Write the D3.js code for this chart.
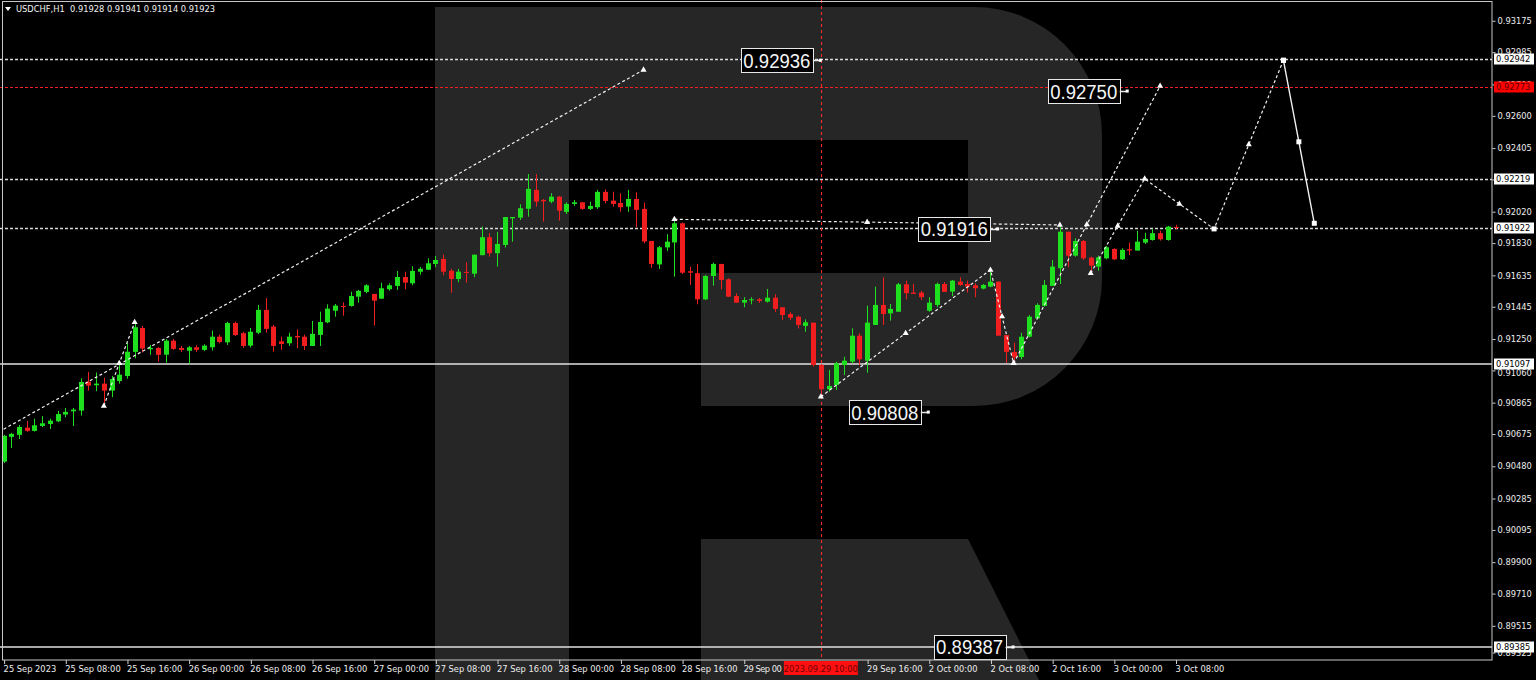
<!DOCTYPE html>
<html><head><meta charset="utf-8">
<script src="https://cdn.jsdelivr.net/npm/d3@7"></script>
<style>html,body{margin:0;padding:0;background:#000;overflow:hidden}svg{display:block}</style>
</head><body><svg id="c" width="1536" height="680"></svg>
<script>
// ---------------- DATA ----------------
const symbolName = "USDCHF,H1";
const lastOHLC = [0.91928, 0.91941, 0.91914, 0.91923];

const opens = [0.90508,0.90658,0.90670,0.90714,0.90694,0.90724,0.90736,0.90752,0.90793,0.90813,
0.90817,0.90992,0.90970,0.90980,0.90938,0.90996,0.91026,0.91172,0.91317,0.91188,
0.91196,0.91155,0.91240,0.91196,0.91179,0.91200,0.91184,0.91200,0.91264,0.91230,
0.91347,0.91285,0.91210,0.91288,0.91426,0.91325,0.91236,0.91224,0.91268,0.91264,
0.91208,0.91275,0.91351,0.91421,0.91450,0.91450,0.91506,0.91535,0.91523,0.91494,
0.91551,0.91571,0.91625,0.91587,0.91657,0.91669,0.91704,0.91734,0.91663,0.91613,
0.91656,0.91645,0.91757,0.91866,0.91769,0.91819,0.91980,0.91984,0.92038,0.92152,
0.92091,0.92081,0.92111,0.92019,0.92067,0.92077,0.92037,0.92047,0.92140,0.92087,
0.92073,0.92051,0.92097,0.92037,0.91843,0.91701,0.91804,0.91834,0.91950,0.91660,
0.91648,0.91490,0.91631,0.91704,0.91611,0.91510,0.91470,0.91484,0.91490,0.91476,
0.91500,0.91442,0.91401,0.91385,0.91329,0.91349,0.91093,0.90946,0.90972,0.91093,
0.91113,0.91270,0.91119,0.91335,0.91456,0.91405,0.91415,0.91581,0.91531,0.91531,
0.91421,0.91456,0.91583,0.91537,0.91597,0.91583,0.91575,0.91555,0.91567,0.91597,
0.91274,0.91172,0.91141,0.91264,0.91375,0.91450,0.91571,0.91678,0.91899,0.91754,
0.91843,0.91742,0.91688,0.91738,0.91795,0.91732,0.91793,0.91785,0.91833,0.91849,
0.91890,0.91849,0.91928];
const highs = [0.90670,0.90682,0.90730,0.90754,0.90768,0.90784,0.90768,0.90815,0.90833,0.90833,
0.91012,0.91051,0.91047,0.91016,0.91026,0.91103,0.91224,0.91351,0.91329,0.91214,
0.91200,0.91250,0.91250,0.91208,0.91208,0.91212,0.91218,0.91301,0.91276,0.91355,
0.91355,0.91293,0.91317,0.91456,0.91498,0.91335,0.91264,0.91288,0.91309,0.91276,
0.91359,0.91415,0.91460,0.91462,0.91472,0.91536,0.91547,0.91581,0.91523,0.91591,
0.91587,0.91662,0.91657,0.91690,0.91686,0.91738,0.91752,0.91760,0.91674,0.91674,
0.91714,0.91760,0.91930,0.91890,0.91898,0.91988,0.91988,0.92065,0.92248,0.92248,
0.92097,0.92132,0.92115,0.92077,0.92091,0.92077,0.92081,0.92152,0.92156,0.92141,
0.92132,0.92152,0.92138,0.92076,0.91843,0.91813,0.91884,0.91974,0.91955,0.91688,
0.91704,0.91637,0.91712,0.91704,0.91617,0.91527,0.91503,0.91503,0.91498,0.91553,
0.91521,0.91442,0.91412,0.91391,0.91369,0.91349,0.91099,0.91063,0.91113,0.91143,
0.91315,0.91285,0.91452,0.91567,0.91623,0.91462,0.91589,0.91603,0.91583,0.91541,
0.91503,0.91591,0.91595,0.91607,0.91623,0.91603,0.91587,0.91583,0.91668,0.91597,
0.91274,0.91228,0.91288,0.91395,0.91466,0.91607,0.91728,0.91940,0.91899,0.91859,
0.91849,0.91748,0.91754,0.91813,0.91799,0.91799,0.91833,0.91905,0.91893,0.91914,
0.91905,0.91934,0.91941];
const lows = [0.90500,0.90591,0.90645,0.90688,0.90690,0.90718,0.90706,0.90748,0.90777,0.90724,
0.90787,0.90938,0.90934,0.90845,0.90898,0.90980,0.91010,0.91133,0.91168,0.91154,
0.91113,0.91107,0.91184,0.91172,0.91101,0.91172,0.91178,0.91180,0.91224,0.91214,
0.91268,0.91196,0.91198,0.91280,0.91288,0.91173,0.91184,0.91208,0.91194,0.91184,
0.91208,0.91208,0.91345,0.91385,0.91391,0.91446,0.91470,0.91527,0.91331,0.91494,
0.91542,0.91547,0.91551,0.91575,0.91639,0.91668,0.91684,0.91636,0.91530,0.91593,
0.91591,0.91624,0.91757,0.91748,0.91688,0.91803,0.91839,0.91970,0.91990,0.92051,
0.91960,0.92071,0.91966,0.92006,0.92055,0.92031,0.92031,0.92037,0.92071,0.92051,
0.92020,0.92020,0.91926,0.91829,0.91680,0.91674,0.91783,0.91627,0.91643,0.91577,
0.91460,0.91486,0.91573,0.91551,0.91504,0.91470,0.91442,0.91460,0.91468,0.91470,
0.91414,0.91365,0.91365,0.91313,0.91294,0.91083,0.90905,0.90932,0.90942,0.91032,
0.91103,0.91093,0.91046,0.91335,0.91335,0.91361,0.91415,0.91490,0.91523,0.91486,
0.91415,0.91442,0.91535,0.91510,0.91571,0.91531,0.91503,0.91550,0.91563,0.91270,
0.91105,0.91103,0.91127,0.91260,0.91369,0.91446,0.91571,0.91583,0.91684,0.91748,
0.91728,0.91648,0.91663,0.91732,0.91728,0.91728,0.91758,0.91785,0.91825,0.91845,
0.91845,0.91845,0.91914];
const closes = [0.90664,0.90676,0.90718,0.90694,0.90728,0.90740,0.90756,0.90796,0.90809,0.90823,
0.90990,0.90968,0.90980,0.90938,0.91008,0.91034,0.91173,0.91321,0.91192,0.91196,
0.91154,0.91240,0.91190,0.91184,0.91200,0.91184,0.91210,0.91264,0.91232,0.91347,
0.91274,0.91208,0.91294,0.91426,0.91311,0.91208,0.91220,0.91264,0.91260,0.91208,
0.91281,0.91353,0.91434,0.91452,0.91446,0.91510,0.91541,0.91575,0.91482,0.91557,
0.91575,0.91625,0.91591,0.91662,0.91675,0.91708,0.91728,0.91657,0.91613,0.91657,
0.91650,0.91760,0.91866,0.91769,0.91825,0.91988,0.91988,0.92041,0.92158,0.92081,
0.92083,0.92111,0.92026,0.92067,0.92077,0.92037,0.92055,0.92140,0.92085,0.92067,
0.92047,0.92097,0.92031,0.91840,0.91704,0.91805,0.91839,0.91950,0.91651,0.91651,
0.91490,0.91631,0.91704,0.91607,0.91506,0.91470,0.91486,0.91490,0.91480,0.91500,
0.91432,0.91395,0.91379,0.91335,0.91351,0.91093,0.90946,0.90966,0.91103,0.91119,
0.91270,0.91127,0.91349,0.91456,0.91401,0.91432,0.91581,0.91527,0.91523,0.91503,
0.91470,0.91583,0.91535,0.91603,0.91577,0.91567,0.91557,0.91577,0.91597,0.91270,
0.91172,0.91138,0.91264,0.91385,0.91456,0.91577,0.91688,0.91899,0.91754,0.91843,
0.91738,0.91694,0.91744,0.91805,0.91732,0.91789,0.91785,0.91839,0.91855,0.91890,
0.91853,0.91930,0.91923];

const xTickLabels = ["25 Sep 2023","25 Sep 08:00","25 Sep 16:00","26 Sep 00:00","26 Sep 08:00","26 Sep 16:00",
"27 Sep 00:00","27 Sep 08:00","27 Sep 16:00","28 Sep 00:00","28 Sep 08:00","28 Sep 16:00","29 Sep 00:00",
"29 Sep 16:00","2 Oct 00:00","2 Oct 08:00","2 Oct 16:00","3 Oct 00:00","3 Oct 08:00"];
const xTickIndex = [0,8,16,24,32,40,48,56,64,72,80,88,96,112,120,128,136,144,152];
const yTicks = [0.93175,0.92985,0.92790,0.92600,0.92405,0.92215,0.92020,0.91830,0.91635,0.91445,0.91250,
0.91060,0.90865,0.90675,0.90480,0.90285,0.90095,0.89900,0.89710,0.89515,0.89325];

const dottedLevels = [0.92942, 0.92219, 0.91922];
const redLevel = 0.92773;
const solidLevels = [0.91097, 0.89385];
const axisBoxes = [0.92942, 0.92219, 0.91922, 0.91097, 0.89385];
const crossIndex = 106;
const crossTimeLabel = "2023.09.29 10:00";

// forecast / analysis lines: bar index + price
const trendLine = {i:[0,83], v:[0.90704,0.92878]};
const wave1 = {i:[13,15,17], v:[0.90845,0.91103,0.91351]};
const flatLine = {i:[87,112,137], v:[0.91974,0.91957,0.91940]};
const wave2 = {i:[106,117,128,129.5,131], v:[0.90901,0.91285,0.91668,0.91386,0.91103]};
const wave3 = {i:[131,140.5,150], v:[0.91103,0.91942,0.92780]};
const wave4 = {i:[141,144.5,148,152.5,157,161.5,166], v:[0.91648,0.91934,0.92219,0.92067,0.91916,0.92426,0.92936]};
const finalLeg = {i:[166,168,170], v:[0.92936,0.92443,0.91950]};

const priceLabels = [
  {t:"0.92936", i:106, v:0.92936},
  {t:"0.92750", i:145.8, v:0.92750},
  {t:"0.91916", i:129, v:0.91916},
  {t:"0.90808", i:120, v:0.90808},
  {t:"0.89387", i:131, v:0.89387}
];

// ---------------- DRAW ----------------
const W = 1536, H = 680, plotR = 1492, plotB = 660;
const svg = d3.select("#c");
const x = d3.scaleLinear().domain([0,152]).range([3.6, 3.6 + 152*7.71]);
const y = d3.scaleLinear().domain([0.893082, 0.933007]).range([plotB, 0]);
const FONT = "'DejaVu Sans', Tahoma, sans-serif";
const GREEN = "#1fe01f", RED = "#f01e1e";
const defs = svg.append("defs");

svg.append("rect").attr("width",W).attr("height",H).attr("fill","#000");

// watermark "R"
const wm = svg.append("g").attr("fill","#262626");
wm.append("rect").attr("x",435).attr("y",7).attr("width",134).attr("height",673);
wm.append("path").attr("d","M567,7H974A128,128 0 0 1 1102,135V278A128,128 0 0 1 974,406H701V273H968V140H567Z");
wm.append("path").attr("d","M701,539H968L1039,680H701Z");

defs.append("clipPath").attr("id","plot")
  .append("rect").attr("x",0).attr("y",0).attr("width",plotR).attr("height",plotB);
const plot = svg.append("g").attr("clip-path","url(#plot)");

// levels
plot.selectAll("line.dl").data(dottedLevels).join("line").attr("class","dl")
  .attr("x1",0).attr("x2",plotR).attr("y1",d=>Math.round(y(d))+0.5).attr("y2",d=>Math.round(y(d))+0.5)
  .attr("stroke","#d8d8d8").attr("stroke-width",1.3).attr("stroke-dasharray","3,2");
plot.append("line").attr("x1",0).attr("x2",plotR)
  .attr("y1",Math.round(y(redLevel))+0.5).attr("y2",Math.round(y(redLevel))+0.5)
  .attr("stroke","#ff1c1c").attr("stroke-width",1.2).attr("stroke-dasharray","3,2");
plot.selectAll("line.sl").data(solidLevels).join("line").attr("class","sl")
  .attr("x1",0).attr("x2",plotR).attr("y1",d=>Math.round(y(d))).attr("y2",d=>Math.round(y(d)))
  .attr("stroke","#e0e0e0").attr("stroke-width",1.6);

// crosshair vertical
const cx0 = Math.round(x(crossIndex))+0.5;
plot.append("line").attr("x1",cx0).attr("x2",cx0).attr("y1",0).attr("y2",plotB)
  .attr("stroke","#ff2a2a").attr("stroke-width",1.1).attr("stroke-dasharray","3,3");

// candles
const candles = opens.map((o,i)=>({i,o,h:highs[i],l:lows[i],c:closes[i]}));
const cg = plot.append("g");
cg.selectAll("line").data(candles).join("line")
  .attr("x1",d=>Math.round(x(d.i))+0.5).attr("x2",d=>Math.round(x(d.i))+0.5)
  .attr("y1",d=>y(d.h)).attr("y2",d=>y(d.l))
  .attr("stroke",d=>d.c>=d.o?GREEN:RED).attr("stroke-width",1);
cg.selectAll("rect").data(candles).join("rect")
  .attr("x",d=>Math.round(x(d.i))-2).attr("width",5)
  .attr("y",d=>y(Math.max(d.o,d.c)))
  .attr("height",d=>Math.max(1,y(Math.min(d.o,d.c))-y(Math.max(d.o,d.c))))
  .attr("fill",d=>d.c>=d.o?GREEN:RED);

// forecast lines
const fg = svg.append("g");
function path(obj, dashed){
  const pts = obj.i.map((ii,k)=>[x(ii), y(obj.v[k])]);
  fg.append("path").attr("d", d3.line()(pts)).attr("fill","none")
    .attr("stroke","#f0f0f0").attr("stroke-width", dashed?1.2:1.4)
    .attr("stroke-dasharray", dashed?"3,2.5":null);
  return pts;
}
function marker(p, sq){
  if (sq) fg.append("rect").attr("x",p[0]-2.5).attr("y",p[1]-2.5).attr("width",5).attr("height",5).attr("fill","#fff");
  else fg.append("path").attr("d", d3.symbol(d3.symbolTriangle).size(16)()).attr("transform",`translate(${p[0]},${p[1]})`).attr("fill","#fff");
}
let p;
p = path(trendLine,true); marker(p[1]);
p = path(wave1,true); p.forEach(q=>marker(q));
p = path(flatLine,true); p.forEach(q=>marker(q));
p = path(wave2,true); p.forEach(q=>marker(q));
p = path(wave3,true); p.forEach(q=>marker(q));
p = path(wave4,true); p.forEach((q,k)=>marker(q, k===4 || k===6));
p = path(finalLeg,false); p.forEach((q,k)=>marker(q, true));

// price labels (boxes)
const lg = svg.append("g");
priceLabels.forEach(d=>{
  const ax = x(d.i), ay = y(d.v);
  const bx = ax - 80, bw = 72, bh = 24;
  lg.append("rect").attr("x",Math.round(bx)+0.5).attr("y",Math.round(ay-bh/2)+0.5).attr("width",bw).attr("height",bh)
    .attr("fill","#000").attr("stroke","#e8e8e8").attr("stroke-width",1);
  lg.append("text").attr("x",bx+bw/2).attr("y",ay+7.5).attr("text-anchor","middle")
    .attr("font-family","'Liberation Sans', Arial, sans-serif").attr("font-size",20)
    .attr("textLength",67).attr("lengthAdjust","spacingAndGlyphs")
    .attr("fill","#f4f4f4").text(d.t);
  lg.append("line").attr("x1",bx+bw).attr("x2",ax).attr("y1",Math.round(ay)+0.5).attr("y2",Math.round(ay)+0.5)
    .attr("stroke","#e8e8e8").attr("stroke-width",1.5);
  lg.append("rect").attr("x",ax-2).attr("y",ay-1.5).attr("width",3).attr("height",3).attr("fill","#fff");
});

// frame
svg.append("rect").attr("x",2.5).attr("y",1.5).attr("width",plotR-2.5).attr("height",plotB-1.5)
  .attr("fill","none").attr("stroke","#c8c8c8").attr("stroke-width",1);

// y axis
const yAxis = d3.axisRight(y).tickValues(yTicks).tickFormat(d3.format(".5f")).tickSize(3).tickPadding(2);
const ya = svg.append("g").attr("transform",`translate(${plotR+0.5},0)`).call(yAxis);
ya.select(".domain").remove();
ya.selectAll(".tick line").attr("stroke","#d0d0d0");
ya.selectAll(".tick text").attr("fill","#ececec").attr("font-family",FONT).attr("font-size",8.3);
ya.selectAll(".tick").filter(d=>d===0.89325).attr("transform",`translate(0,653)`);
ya.selectAll(".tick").filter(d=>d===0.91060).select("text").attr("dy","0.62em");

// axis boxes on the right
const ab = svg.append("g");
axisBoxes.forEach(v=>{
  const yy = Math.round(y(v));
  ab.append("rect").attr("x",1494).attr("y",yy-5.5).attr("width",40).attr("height",11).attr("fill","#fff");
  ab.append("text").attr("x",1496).attr("y",yy+3.2).attr("font-family",FONT).attr("font-size",8.3).attr("fill","#000").text(v.toFixed(5));
});
{
  const yy = Math.round(y(redLevel));
  ab.append("rect").attr("x",1494).attr("y",yy-5.5).attr("width",40).attr("height",11).attr("fill","#ff0000");
  ab.append("text").attr("x",1496).attr("y",yy+3.2).attr("font-family",FONT).attr("font-size",8.3).attr("fill","#5a0000").text(redLevel.toFixed(5));
}

// x axis
const tx = x(crossIndex);
const xAxis = d3.axisBottom(x).tickValues(xTickIndex).tickFormat((d,k)=>xTickLabels[k]).tickSize(4).tickPadding(2);
const xa = svg.append("g").attr("transform",`translate(0.5,${plotB})`).call(xAxis);
xa.select(".domain").remove();
xa.selectAll(".tick line").attr("stroke","#d0d0d0");
xa.selectAll(".tick text").attr("fill","#ececec").attr("font-family",FONT).attr("font-size",8.3)
  .attr("text-anchor","start").attr("dx",-1);
// label partly hidden behind the time marker
xa.selectAll(".tick").filter(d=>d===96).select("text")
  .attr("textLength",38).attr("lengthAdjust","spacing").text("29 Sep 00");

// crosshair time label
svg.append("rect").attr("x",tx-37).attr("y",661).attr("width",74).attr("height",14).attr("fill","#ff1010");
svg.append("text").attr("x",tx).attr("y",671.5).attr("text-anchor","middle").attr("font-family",FONT)
  .attr("font-size",8.3).attr("fill","#700000").text(crossTimeLabel);

// header
svg.append("path").attr("d","M5,7H11L8,11Z").attr("fill","#fff");
svg.append("text").attr("x",16).attr("y",12).attr("font-family",FONT).attr("font-size",8.3).attr("fill","#f0f0f0")
  .attr("xml:space","preserve")
  .text(symbolName + "  " + lastOHLC.map(v=>v.toFixed(5)).join(" "));
</script></body></html>
